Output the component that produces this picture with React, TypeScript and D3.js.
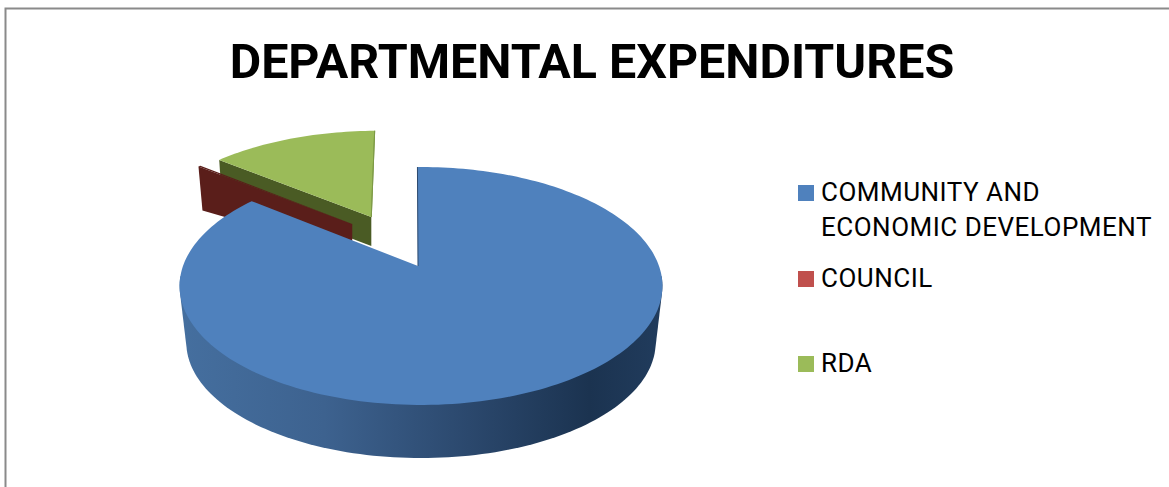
import React from "react";
import * as d3 from "d3";

const categories = ["COMMUNITY AND ECONOMIC DEVELOPMENT", "COUNCIL", "RDA"];
const shares = [85.9, 0.2, 13.9]; // percent
const legendLines = [["COMMUNITY AND", "ECONOMIC DEVELOPMENT"], ["COUNCIL"], ["RDA"]];
const colors = ["#4f81bd", "#c0504d", "#9bbb59"];
const title = "DEPARTMENTAL EXPENDITURES";

const width = 1169;
const height = 487;

// perspective of the pie's disc: unit disc -> screen
const centre = { x: 421, y: 266 };
const rx = 238;
const ry = 115.6;
const persp = 0.168;

type Pt = [number, number];

const project = (u: number, v: number, scale = 1, drop = 0): Pt => {
  const w = 1 - persp * v;
  return [centre.x + (scale * rx * u) / w, centre.y + drop + (scale * ry * v) / w];
};

const polar = (a: number, r = 1): Pt => [r * Math.sin(a), -r * Math.cos(a)];

const toRad = d3.scaleLinear().domain([0, 360]).range([0, 2 * Math.PI]);
const slices = d3
  .pie<number>()
  .sort(null)
  .startAngle(toRad(-1))
  .endAngle(toRad(359))(shares);

// exploded slices are pushed away by these disc offsets
const offsets: Pt[] = [
  [0, 0],
  [-0.3076, -0.387],
  [-0.2248, -0.456],
];
// the large slice's tip sits a little left of the rim's centre
const tipShift = -0.0126;

const line = d3.line();

const wedge = (i: number) => {
  const { startAngle, endAngle } = slices[i];
  const [ox, oy] = offsets[i];
  const n = Math.max(2, Math.ceil((endAngle - startAngle) * 40));
  const rim = d3.range(n + 1).map((k) => {
    const [u, v] = polar(startAngle + ((endAngle - startAngle) * k) / n);
    return project(u + ox, v + oy);
  });
  const tip = i === 0 ? project(tipShift, 0) : project(ox, oy);
  return line([tip, ...rim])! + "Z";
};

// straight wall from the slice centre to its rim, used by the exploded slices
const sideWall = (i: number, angle: number, dropIn: number, dropOut: number, pinch: number) => {
  const [ox, oy] = offsets[i];
  const [u, v] = polar(angle);
  const topIn = project(ox, oy);
  const topOut = project(u + ox, v + oy);
  const botOut: Pt = [topOut[0] + pinch, topOut[1] + dropOut];
  const botIn: Pt = [topIn[0], topIn[1] + dropIn];
  return line([topIn, topOut, botOut, botIn])! + "Z";
};

// outer wall of the large slice: hull of the near half of both rims
const outerWall = () => {
  const n = 120;
  const angles = d3.range(n + 1).map((k) => toRad(95 + ((265 - 95) * k) / n));
  const top = angles.map((a) => {
    const [u, v] = polar(a);
    return project(u, v);
  });
  const bottom = angles.map((a) => {
    const [u, v] = polar(a);
    return project(u, v, 0.972, 57);
  });
  return line(d3.polygonHull([...top, ...bottom]) as Pt[])! + "Z";
};

const innerEdge = () => {
  const [u, v] = polar(slices[0].startAngle);
  return line([project(tipShift, 0), project(u, v)])!;
};

const App: React.FC = () => (
  <svg
    width={width}
    height={height}
    style={{ position: "absolute", left: 0, top: 0, display: "block", background: "#fff" }}
  >
    <defs>
      <linearGradient id="wall" gradientUnits="userSpaceOnUse" x1={179} y1={0} x2={662} y2={0}>
        <stop offset="0%" stopColor="#456f9f" />
        <stop offset="30%" stopColor="#3d628f" />
        <stop offset="60%" stopColor="#2b486d" />
        <stop offset="85%" stopColor="#1b3350" />
        <stop offset="100%" stopColor="#213c5d" />
      </linearGradient>
    </defs>

    {/* frame */}
    <path d={`M5.5,${height}V8.5H${width}`} fill="none" stroke="#8a8a8a" strokeWidth={2} />

    <text
      x={592}
      y={78}
      textAnchor="middle"
      fontFamily="Roboto"
      fontWeight={700}
      fontSize={48.4}
      fill="#000"
    >
      {title}
    </text>

    {/* RDA */}
    <path d={sideWall(2, slices[2].startAngle, 29, 29, 2)} fill="#4a5b24" />
    <path d={wedge(2)} fill={colors[2]} />
    <path d={sideWall(2, slices[2].endAngle, 0, 0, 0)} stroke="#7d9a45" strokeWidth={1} />

    {/* COUNCIL: only its dark wall shows, the top face is a sliver */}
    <path d={wedge(1)} fill="#5a1e1a" />
    <path d={sideWall(1, slices[1].startAngle, 30, 44, 4)} fill="#5a1e1a" />

    {/* COMMUNITY AND ECONOMIC DEVELOPMENT */}
    <path d={outerWall()} fill="url(#wall)" />
    <path d={wedge(0)} fill={colors[0]} />
    <path d={innerEdge()} fill="none" stroke="#2b486d" strokeWidth={1} />

    {/* legend */}
    {categories.map((c, i) => {
      const squareY = [185, 271, 356][i];
      return (
        <g key={c}>
          <rect x={798} y={squareY} width={16} height={16} fill={colors[i]} />
          {legendLines[i].map((t, j) => (
            <text
              key={t}
              x={821}
              y={squareY + 16 + j * 34.5}
              fontFamily="Roboto"
              fontSize={26}
              letterSpacing={0.5}
              fill="#000"
            >
              {t}
            </text>
          ))}
        </g>
      );
    })}
  </svg>
);

export default App;
